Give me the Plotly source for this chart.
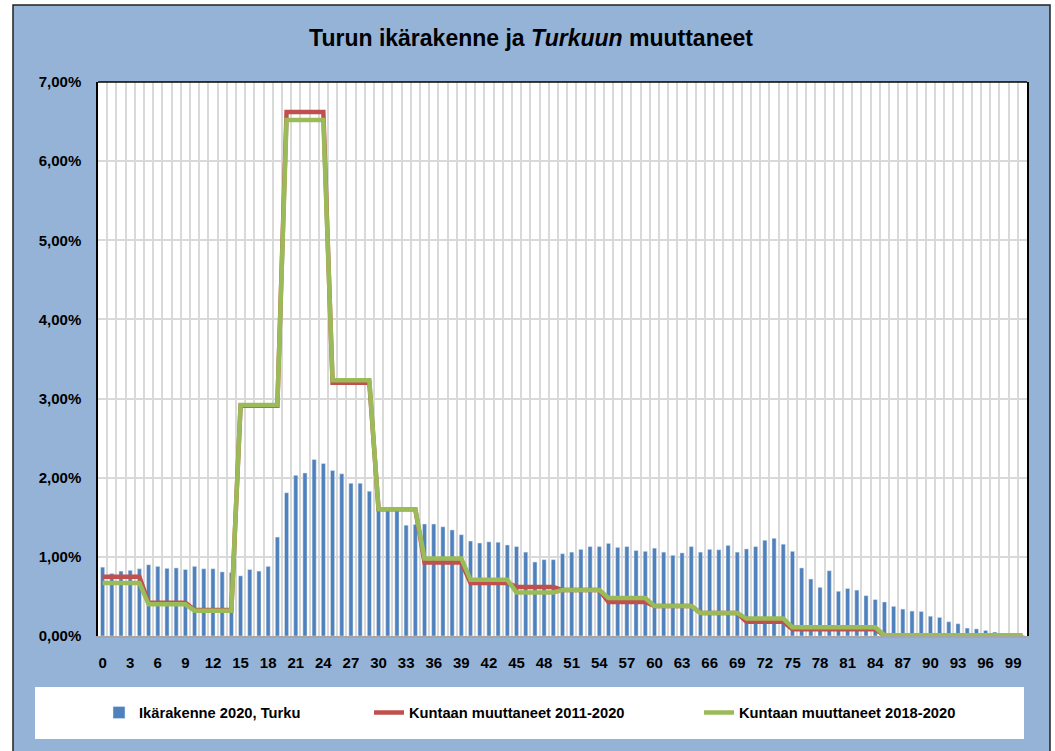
import plotly.graph_objects as go

# ---------------- data ----------------
ages = list(range(0, 101))
tick_ages = list(range(0, 100, 3))

# Age structure 2020, Turku (% of population by age)
ikarakenne_2020 = [
    0.87, 0.79, 0.82, 0.83, 0.85, 0.90, 0.88, 0.855, 0.86, 0.84,
    0.88, 0.85, 0.85, 0.81, 0.80, 0.76, 0.84, 0.82, 0.88, 1.25,
    1.81, 2.03, 2.06, 2.23, 2.18, 2.09, 2.05, 1.93, 1.93, 1.83,
    1.62, 1.60, 1.60, 1.40, 1.41, 1.415, 1.415, 1.38, 1.34, 1.28,
    1.20, 1.175, 1.19, 1.185, 1.15, 1.13, 1.06, 0.935, 0.965, 0.965,
    1.04, 1.06, 1.095, 1.13, 1.13, 1.17, 1.12, 1.13, 1.08, 1.07,
    1.11, 1.06, 1.02, 1.05, 1.13, 1.06, 1.095, 1.09, 1.145, 1.06,
    1.10, 1.13, 1.21, 1.235, 1.16, 1.07, 0.86, 0.72, 0.615, 0.825,
    0.565, 0.60, 0.58, 0.51, 0.46, 0.43, 0.375, 0.34, 0.315, 0.31,
    0.25, 0.235, 0.18, 0.155, 0.10, 0.09, 0.07, 0.05, 0.035, 0.02, 0.01,
]

# Migrants by age group (% per single year of age within the group)
group_start = [0, 5, 10, 15, 20, 25, 30, 35, 40, 45, 50, 55, 60, 65, 70, 75, 85]
muuttaneet_2011_2020 = [0.75, 0.42, 0.33, 2.91, 6.62, 3.20, 1.60, 0.93, 0.67, 0.62,
                        0.58, 0.43, 0.38, 0.29, 0.18, 0.085, 0.01]
muuttaneet_2018_2020 = [0.67, 0.40, 0.32, 2.92, 6.52, 3.23, 1.60, 0.98, 0.71, 0.55,
                        0.58, 0.48, 0.38, 0.29, 0.22, 0.11, 0.01]

names = ["Ikärakenne 2020, Turku", "Kuntaan muuttaneet 2011-2020", "Kuntaan muuttaneet 2018-2020"]


def expand(values):
    out = []
    for a in ages:
        idx = max(i for i, s in enumerate(group_start) if s <= a)
        out.append(values[idx] / 100)
    return out


bars = [v / 100 for v in ikarakenne_2020]
red = expand(muuttaneet_2011_2020)
green = expand(muuttaneet_2018_2020)

# ---------------- figure ----------------
W, H = 1055, 751
L, R, T, B = 98, 1027, 82, 636
pw, ph = R - L, B - T


def px(x):
    return (x - L) / pw


def py(y):
    return (B - y) / ph


FONT = "Liberation Sans, Arial, sans-serif"
BG = "#95B3D7"
LEG_FONT = dict(family=FONT, size=14.7, color="#000000", weight="bold")

fig = go.Figure()
fig.add_trace(go.Bar(x=ages, y=bars, name=names[0], marker_color="#4F81BD",
                     width=0.45, legend="legend"))
fig.add_trace(go.Scatter(x=ages, y=red, name=names[1], mode="lines",
                         line=dict(color="#C0504D", width=4.5), legend="legend2"))
fig.add_trace(go.Scatter(x=ages, y=green, name=names[2], mode="lines",
                         line=dict(color="#9BBB59", width=4.5), legend="legend3"))

legend_common = dict(orientation="h", yanchor="middle", y=py(713), xanchor="left",
                     bgcolor="rgba(0,0,0,0)", font=LEG_FONT)

fig.update_layout(
    width=W, height=H,
    margin=dict(l=L, r=W - R, t=T, b=H - B, pad=0),
    paper_bgcolor="#FFFFFF",
    plot_bgcolor="#FFFFFF",
    separators=", ",
    title=dict(text="<b>Turun ikärakenne ja <i>Turkuun</i> muuttaneet</b>",
               x=531 / W, xref="container", xanchor="center",
               y=1 - 38 / H, yref="container", yanchor="middle",
               font=dict(family=FONT, size=23, color="#000000")),
    xaxis=dict(range=[-0.5, 100.5], tickvals=tick_ages, ticktext=[str(t) for t in tick_ages],
               showgrid=False, zeroline=False,
               showline=True, linecolor="#A6A6A6", linewidth=1.5,
               ticks="", ticklabelstandoff=12,
               tickfont=dict(family=FONT, size=15, color="#000000", weight="bold"),
               minor=dict(tick0=0.5, dtick=1, showgrid=True, gridcolor="#D9D9D9", gridwidth=1.5)),
    yaxis=dict(range=[0, 0.07], dtick=0.01, tickformat=".2%",
               showgrid=True, gridcolor="#D9D9D9", gridwidth=1.5, zeroline=False,
               showline=True, linecolor="#000000", linewidth=1.5, mirror=True,
               ticks="", ticklabelstandoff=12,
               tickfont=dict(family=FONT, size=15, color="#000000", weight="bold")),
    bargap=0.5,
    showlegend=True,
    legend=dict(legend_common, x=px(99)),
    legend2=dict(legend_common, x=px(369)),
    legend3=dict(legend_common, x=px(699)),
    shapes=[
        # chart area background with border
        dict(type="rect", xref="paper", yref="paper", layer="below",
             x0=px(13), x1=px(1050), y0=py(5), y1=py(760),
             fillcolor=BG, line=dict(color="#222222", width=1.5)),
        # plot area white
        dict(type="rect", xref="paper", yref="paper", layer="below",
             x0=0, x1=1, y0=0, y1=1, fillcolor="#FFFFFF", line=dict(width=0)),
        # legend box
        dict(type="rect", xref="paper", yref="paper", layer="below",
             x0=px(35), x1=px(1024), y0=py(687), y1=py(739),
             fillcolor="#FFFFFF", line=dict(width=0)),
        # top border of plot area
        dict(type="line", xref="paper", yref="paper", x0=0, x1=1, y0=1, y1=1,
             line=dict(color="#000000", width=1.5)),
    ],
)

fig.write_html("out.html", config={"displayModeBar": False},
               post_script="document.body.style.margin='0';")
